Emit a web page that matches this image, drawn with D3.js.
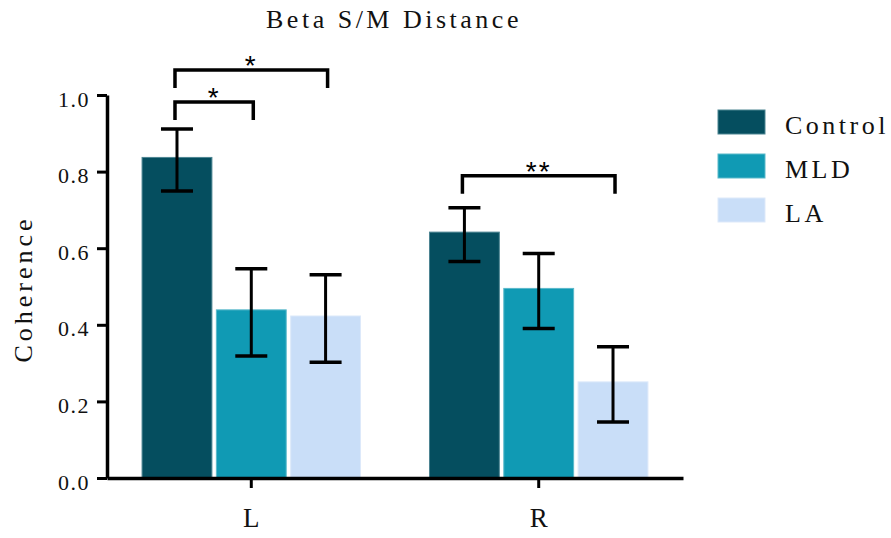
<!DOCTYPE html>
<html lang="en">
<head>
<meta charset="UTF-8">
<title>Beta S/M Distance</title>
<style>
body {
	margin: 0;
	background: #fff;
}
svg text {
	font-family: "Liberation Serif", Tinos, "DejaVu Serif", "Noto Serif", serif;
	fill: #111;
}
svg text.star {
	font-family: "Liberation Sans", Arimo, "DejaVu Sans", sans-serif;
	fill: #000;
}
</style>
</head>
<body>
<svg id="chart" width="891" height="538"></svg>
<script src="https://cdn.jsdelivr.net/npm/d3@7/dist/d3.min.js"></script>
<script>

const groups = ["L", "R"];
const series = ["Control", "MLD", "LA"];
const colors = ["#054e5f", "#109ab4", "#c9def8"];
const edges = ["#4d8592", "#5ab9ca", "#dde9fa"];

// mean and error per group, in series order
const means = {
	L: [0.837, 0.439, 0.423],
	R: [0.642, 0.495, 0.251]
};
const errors = {
	L: [0.081, 0.114, 0.114],
	R: [0.070, 0.098, 0.098]
};

const yTicks = [0, 0.2, 0.4, 0.6, 0.8, 1.0];

// significance brackets
const brackets = [
	{ group: "L", from: "Control", to: "MLD", level: 0.982, label: "*" },
	{ group: "L", from: "Control", to: "LA", level: 1.065, label: "*" },
	{ group: "R", from: "Control", to: "LA", level: 0.789, label: "**" }
];

const svg = d3.select("#chart");

const x0 = d3.scaleBand()
	.domain(groups)
	.range([107, 683])
	.paddingInner(0.24)
	.paddingOuter(0.122);

const x1 = d3.scaleBand()
	.domain(series)
	.range([0, x0.bandwidth()])
	.paddingInner(0.06);

const y = d3.scaleLinear()
	.domain([0, 1])
	.range([478, 95]);

const color = d3.scaleOrdinal().domain(series).range(colors);
const edge = d3.scaleOrdinal().domain(series).range(edges);

const rows = [];
groups.forEach(g => {
	series.forEach((s, i) => {
		rows.push({ group: g, series: s, value: means[g][i], err: errors[g][i] });
	});
});

// bars
svg.append("g")
	.selectAll("rect")
	.data(rows)
	.join("rect")
	.attr("x", d => x0(d.group) + x1(d.series))
	.attr("y", d => y(d.value))
	.attr("width", x1.bandwidth())
	.attr("height", d => y(0) - y(d.value))
	.attr("fill", d => color(d.series))
	.attr("stroke", d => edge(d.series))
	.attr("stroke-width", 1);

// error bars (caps sit a little low, like the original export)
const eb = svg.append("g")
	.attr("stroke", "#000")
	.selectAll("g")
	.data(rows)
	.join("g")
	.attr("transform", d => `translate(${x0(d.group) + x1(d.series) + x1.bandwidth() / 2},2.5)`);

eb.append("line")
	.attr("y1", d => y(d.value + d.err))
	.attr("y2", d => y(d.value - d.err))
	.attr("stroke-width", 3);

eb.append("line")
	.attr("x1", -16).attr("x2", 16)
	.attr("y1", d => y(d.value + d.err))
	.attr("y2", d => y(d.value + d.err))
	.attr("stroke-width", 3.5);

eb.append("line")
	.attr("x1", -16).attr("x2", 16)
	.attr("y1", d => y(d.value - d.err))
	.attr("y2", d => y(d.value - d.err))
	.attr("stroke-width", 3.5);

// y axis
const yAxis = svg.append("g")
	.attr("transform", "translate(107,0)")
	.call(d3.axisLeft(y).tickValues(yTicks).tickFormat(d3.format(".1f")).tickSize(10).tickSizeOuter(0));

yAxis.attr("font-family", null);
yAxis.select(".domain").attr("stroke", "#000").attr("stroke-width", 3.5);
yAxis.selectAll(".tick line").attr("stroke", "#000").attr("stroke-width", 3);
yAxis.selectAll(".tick text")
	.attr("font-size", 22)
	.attr("letter-spacing", 1.5)
	.attr("x", -17)
	.attr("dy", "0.5em");

// x axis
const xAxis = svg.append("g")
	.attr("transform", `translate(0,${y(0)})`)
	.call(d3.axisBottom(x0).tickSize(10).tickSizeOuter(0));

xAxis.attr("font-family", null);
xAxis.select(".domain").attr("stroke", "#000").attr("stroke-width", 3.5);
xAxis.selectAll(".tick line").attr("stroke", "#000").attr("stroke-width", 3);
xAxis.selectAll(".tick text")
	.attr("font-size", 27)
	.attr("y", 49)
	.attr("dy", 0);

// brackets
const br = svg.append("g")
	.selectAll("g")
	.data(brackets)
	.join("g");

br.append("path")
	.attr("fill", "none")
	.attr("stroke", "#000")
	.attr("stroke-width", 3.5)
	.attr("d", d => {
		const xa = x0(d.group) + x1(d.from) + x1.bandwidth() / 2 - 2;
		const xb = x0(d.group) + x1(d.to) + x1.bandwidth() / 2 + 2;
		const yy = y(d.level);
		return `M${xa},${yy + 18}V${yy}H${xb}V${yy + 18}`;
	});

br.append("text")
	.attr("class", "star")
	.attr("x", d => (x0(d.group) + x1(d.from) + x0(d.group) + x1(d.to) + x1.bandwidth()) / 2)
	.attr("y", d => y(d.level) + 5)
	.attr("text-anchor", "middle")
	.attr("font-size", 28)
	.attr("letter-spacing", 2)
	.text(d => d.label);

// title
svg.append("text")
	.attr("x", 394)
	.attr("y", 28)
	.attr("text-anchor", "middle")
	.attr("font-size", 26)
	.attr("letter-spacing", 3.5)
	.text("Beta S/M Distance");

// y label
svg.append("text")
	.attr("transform", "translate(32,289) rotate(-90)")
	.attr("text-anchor", "middle")
	.attr("font-size", 26)
	.attr("letter-spacing", 4)
	.text("Coherence");

// legend
const legend = svg.append("g")
	.selectAll("g")
	.data(series)
	.join("g")
	.attr("transform", (d, i) => `translate(718,${110 + i * 44})`);

legend.append("rect")
	.attr("width", 47)
	.attr("height", 24)
	.attr("fill", d => color(d))
	.attr("stroke", d => edge(d))
	.attr("stroke-width", 1);

legend.append("text")
	.attr("x", 67)
	.attr("y", 24)
	.attr("font-size", 26)
	.attr("letter-spacing", 3.5)
	.text(d => d);

</script>
</body>
</html>
